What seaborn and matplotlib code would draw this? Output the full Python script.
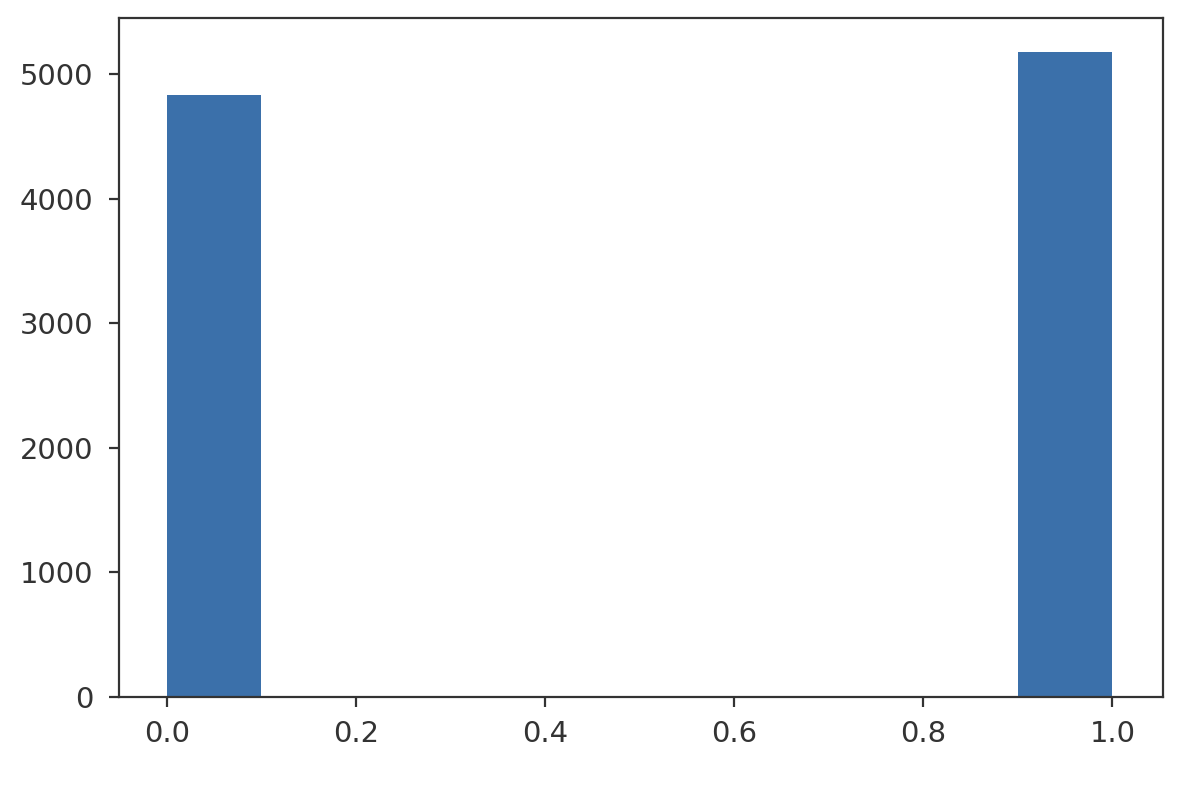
import numpy as np
import pandas as pd
import seaborn as sns
import matplotlib
matplotlib.use('Agg')
import matplotlib.pyplot as plt

# binary outcome and how often each value occurs
values = [0, 1]
counts = [4834, 5180]

df = pd.DataFrame({'value': values, 'count': counts})

fig = plt.figure(figsize=(1194 / 199, 792 / 199), dpi=199)
ax = fig.add_axes([119.5 / 1194, 1 - 697 / 792, (1162.5 - 119.5) / 1194, (697 - 18) / 792])

sns.histplot(data=df, x='value', weights='count', bins=10, binrange=(0, 1),
             color='#3b70aa', alpha=1, edgecolor='none', linewidth=0, ax=ax)

ax.set_xlabel('')
ax.set_ylabel('')
ax.set_xticks([0.0, 0.2, 0.4, 0.6, 0.8, 1.0])
ax.set_yticks([0, 1000, 2000, 3000, 4000, 5000])
ax.set_xlim(-0.05, 1.053)
ax.set_ylim(0, 5450)
ax.tick_params(colors='#333333', labelsize=10.5)
ax.tick_params(axis='y', pad=6)
ax.tick_params(axis='x', pad=5)
for s in ax.spines.values():
    s.set_color('#333333')

fig.savefig('out.png', dpi=199)
